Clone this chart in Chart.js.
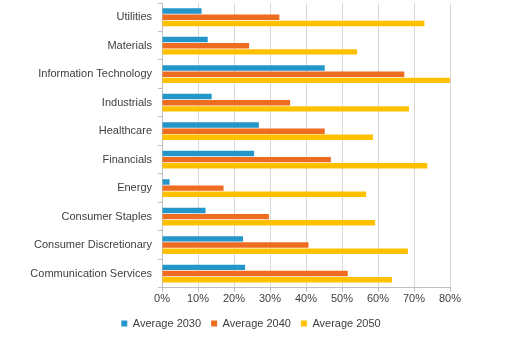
<!DOCTYPE html>
<html>
<head>
<meta charset="utf-8">
<script src="https://cdn.jsdelivr.net/npm/chart.js@4"></script>
<style>
  html, body { margin: 0; padding: 0; background: #fff; }
  #wrap { width: 518px; height: 352px; }
</style>
</head>
<body>
<div id="wrap"><canvas id="chart"></canvas></div>
<script>
// sectors, top to bottom
var sectors = ["Utilities", "Materials", "Information Technology", "Industrials", "Healthcare",
    "Financials", "Energy", "Consumer Staples", "Consumer Discretionary", "Communication Services"];

// share in percent
var avg2030 = [11, 12.7, 45.2, 13.8, 26.9, 25.6, 2.1, 12.1, 22.5, 23.1];
var avg2040 = [32.6, 24.2, 67.3, 35.6, 45.2, 46.9, 17.1, 29.7, 40.7, 51.6];
var avg2050 = [72.9, 54.2, 80, 68.6, 58.6, 73.7, 56.7, 59.2, 68.3, 63.9];

var xTicks = [0, 10, 20, 30, 40, 50, 60, 70, 80];

Chart.defaults.font.family = "'Liberation Sans', Arial, sans-serif";
Chart.defaults.font.size = 11;
Chart.defaults.color = "#404040";

// category axes: no extra room above/below for half labels
function noVertPadding(scale) {
    scale.paddingTop = 0;
    scale.paddingBottom = 0;
}

var ctx = document.getElementById("chart").getContext("2d");
new Chart(ctx, {
    type: "bar",
    data: {
        labels: sectors,
        datasets: [
            { label: "Average 2030", data: avg2030, backgroundColor: "#2596c9" },
            { label: "Average 2040", data: avg2040, backgroundColor: "#ee6c1f" },
            { label: "Average 2050", data: avg2050, backgroundColor: "#ffc000" }
        ]
    },
    options: {
        indexAxis: "y",
        responsive: true,
        maintainAspectRatio: false,
        animation: false,
        layout: { padding: { top: 3, right: 16, left: 0, bottom: 13 } },
        datasets: { bar: { barPercentage: 0.88, categoryPercentage: 0.65 } },
        scales: {
            x: {
                min: 0,
                max: 80,
                afterBuildTicks: function (scale) {
                    scale.ticks = xTicks.map(function (v) { return { value: v }; });
                },
                afterFit: function (scale) { scale.height += 1; },
                ticks: {
                    padding: 1,
                    callback: function (v) { return v + "%"; }
                },
                grid: { color: "#d9d9d9", tickLength: 4, tickColor: "#bfbfbf" },
                border: { color: "#bfbfbf" }
            },
            y: {
                afterFit: function (scale) { scale.width = 162; noVertPadding(scale); },
                ticks: { padding: 6 },
                grid: { drawOnChartArea: false, tickLength: 4, color: "#bfbfbf" },
                border: { color: "#bfbfbf" }
            },
            // empty right strip so the plot stops at 80% like the original
            yRight: {
                position: "right",
                type: "category",
                labels: sectors,
                ticks: { display: false },
                grid: { display: false },
                border: { display: false },
                afterFit: function (scale) { scale.width = 52; noVertPadding(scale); }
            }
        },
        plugins: {
            legend: {
                position: "bottom",
                labels: { boxWidth: 6, boxHeight: 6, padding: 10 }
            },
            tooltip: { enabled: false }
        }
    }
});
</script>
</body>
</html>
